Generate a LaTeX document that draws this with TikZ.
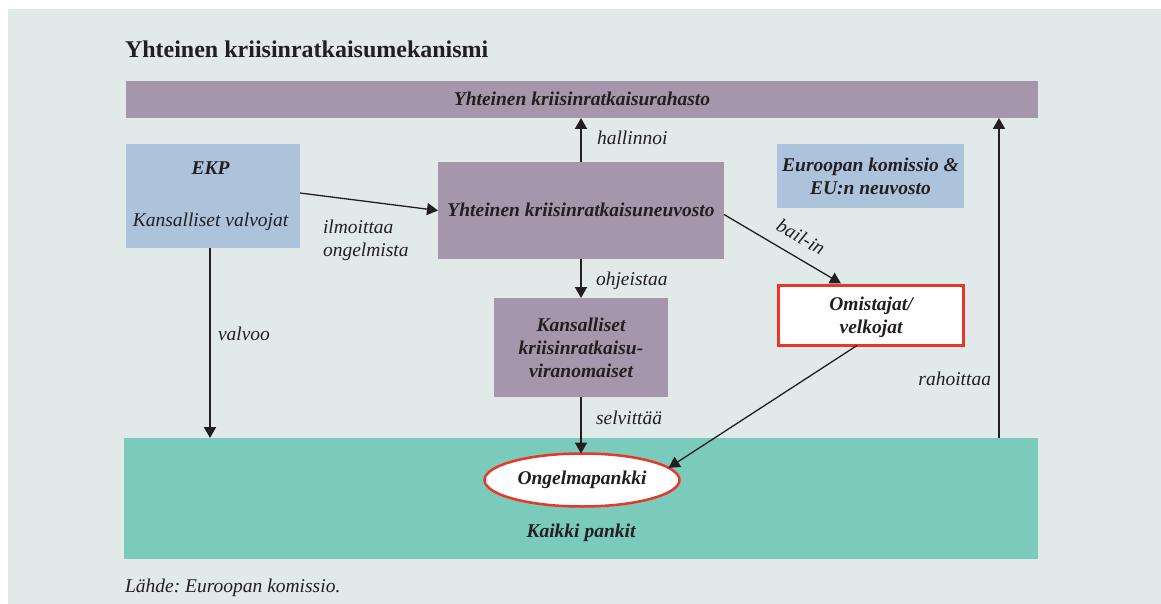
\documentclass[tikz,border=0pt]{standalone}
\usepackage{fontspec}
\setmainfont{Liberation Serif}
\usetikzlibrary{arrows.meta,shapes.geometric,calc}
\definecolor{bg}{HTML}{E1EAE9}
\definecolor{purp}{HTML}{A696AB}
\definecolor{blueb}{HTML}{ADC2DB}
\definecolor{teal}{HTML}{7BCBBD}
\definecolor{redb}{HTML}{E8372A}
\definecolor{ink}{HTML}{231F20}
\frenchspacing
\tikzset{
  base/.style={inner sep=0pt, outer sep=0pt, text=ink, font=\fontsize{19.5}{23}\selectfont},
  boxn/.style={base, rectangle, align=center, font=\fontsize{19.5}{23}\selectfont\bfseries\itshape},
  lbl/.style={base, font=\fontsize{19.5}{23}\selectfont\itshape},
  arr/.style={draw=ink, line width=2pt, -{Triangle[length=11pt,width=12pt]}},
  arrthin/.style={draw=ink, line width=1.3pt, -{Triangle[length=11pt,width=12pt]}},
}
\begin{document}
\begin{tikzpicture}[x=1pt,y=-1pt]
\fill[white] (0,0) rectangle (1161,604);
\useasboundingbox (0,0) rectangle (1161,604);
\fill[bg] (8,9) rectangle (1161,604);

\node[base, anchor=base west, font=\fontsize{24}{28}\selectfont\bfseries] (title) at (125,58) {Yhteinen kriisinratkaisumekanismi};

\node[boxn, fill=purp, minimum width=912, minimum height=37] (fund) at (582,99.5) {};
\node[boxn, anchor=base] (fundt) at (582,106) {Yhteinen kriisinratkaisurahasto};

\node[boxn, fill=blueb, minimum width=174, minimum height=104] (ekp) at (213,196) {};
\node[boxn, anchor=base] (ekpt) at (210.5,175) {EKP};
\node[lbl, anchor=base] (ekpv) at (210.5,226) {Kansalliset valvojat};

\node[boxn, fill=purp, minimum width=286, minimum height=97] (neuv) at (581,210.5) {};
\node[boxn, anchor=base] (neuvt) at (581,216) {Yhteinen kriisinratkaisuneuvosto};

\node[boxn, fill=blueb, minimum width=187, minimum height=64] (kom) at (870.5,176) {Euroopan komissio \&\\EU:n neuvosto};

\node[boxn, fill=white, draw=redb, line width=3pt, minimum width=185, minimum height=60] (omis) at (871,315.5) {\rule{0pt}{17pt}Omistajat/\\velkojat};

\node[boxn, fill=purp, minimum width=174, minimum height=99] (kans) at (581,347.5) {Kansalliset\\kriisinratkaisu-\\viranomaiset};

\node[base, fill=teal, minimum width=914, minimum height=121] (kaikki) at (581,498.5) {};
\node[boxn] (kaikkit) at (581,533) {Kaikki pankit};

\node[boxn, ellipse, fill=white, draw=redb, line width=2.5pt, minimum width=195, minimum height=53] (ong) at (582,480) {Ongelmapankki};

% connectors
\draw[arr] (neuv.north) -- (neuv.north |- fund.south);
\draw[arrthin] ($(ekp.east)+(0,-3)$) -- (neuv.west);
\draw[arrthin] ($(neuv.east)+(0,4)$) -- ($(omis.north)+(-30,-2)$);
\draw[arr] (neuv.south) -- (kans.north);
\draw[arr] (kans.south) -- (kans.south |- ong.north);
\draw[arrthin] ($(omis.south)+(-14,0)$) -- (ong.8);
\coordinate (v1) at ($(ekp.south)+(-3,0)$);
\draw[arr] (v1) -- (v1 |- kaikki.north);
\coordinate (r1) at (999,438);
\draw[arr] (r1) -- (r1 |- fund.south);

% labels
\node[lbl, anchor=base west] (lhal) at (597,145) {hallinnoi};
\node[lbl, anchor=base west, align=left] (lilm) at (323,256) {ilmoittaa\\ongelmista};
\node[lbl, rotate=-29.5] (lbail) at (801,237) {bail-in};
\node[lbl, anchor=base west] (lohj) at (596,285) {ohjeistaa};
\node[lbl, anchor=base west] (lsel) at (596,424) {selvittää};
\node[lbl, anchor=base west] (lval) at (218,340) {valvoo};
\node[lbl, anchor=base east] (lrah) at (991,385) {rahoittaa};
\node[lbl, anchor=base west] (src) at (125,592) {Lähde: Euroopan komissio.};
\end{tikzpicture}
\end{document}
